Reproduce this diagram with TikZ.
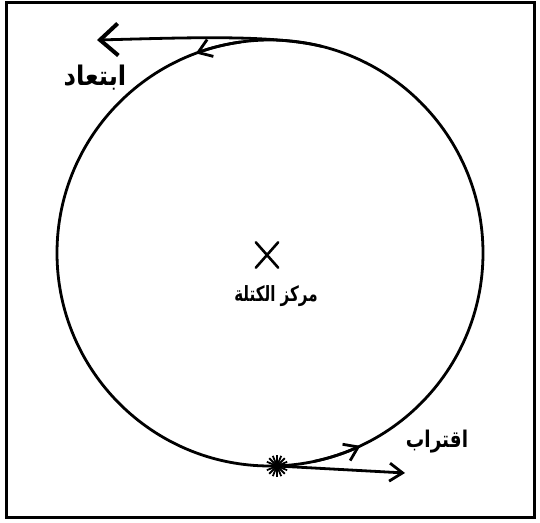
\documentclass[tikz,border=0pt]{standalone}
\usepackage{fontspec}
\usetikzlibrary{arrows.meta,calc}
\TeXXeTstate=1
\newfontfamily\arabicfont[Script=Arabic]{DejaVu Sans}
\begin{document}
\begin{tikzpicture}[x=1pt,y=1pt,
  ink/.style={line width=2.8pt,line cap=round,line join=round},
  barb/.style={-{Straight Barb[length=13pt,width=18pt,line width=2.8pt]}},
  bigbarb/.style={-{Straight Barb[length=18pt,width=32pt,line width=4pt]}},
  lbl/.style={font=\arabicfont\bfseries, inner sep=0pt}]
\useasboundingbox (0,0) rectangle (540,522);
\draw[line width=3pt] (6,5) rectangle (534,519);
% orbit
\coordinate (cm) at (270,269);
\draw[ink] (cm) circle[radius=213];
% centre of mass mark
\node[inner sep=0pt,minimum width=22pt,minimum height=25pt] (x) at (267,267) {};
\draw[line width=2.6pt,line cap=round] (x.north west) .. controls (267,267) .. (x.south east);
\draw[line width=2.6pt,line cap=round] (x.north east) .. controls (267,267) .. (x.south west);
\node[lbl] (cml) at (276,226) {\scalebox{0.72}[1]{\fontsize{21}{24}\selectfont\beginR مركز الكتلة\endR}};
% top: receding
\coordinate (t0) at ($(cm)+(76:213)$);
\coordinate (tip) at (97,482);
\draw[ink,bigbarb] (t0) .. controls (270,488) and (180,484) .. (tip);
\draw[ink,barb] ($(cm)+(98:213)$) arc[start angle=98,end angle=110.4,radius=213];
\node[lbl] (far) at (95,444) {\scalebox{0.9}[1]{\fontsize{27}{30}\selectfont\beginR ابتعاد\endR}};
% bottom: approaching
\coordinate (star) at (277,56);
\foreach \a in {0,22.5,...,337.5} \draw[line width=1.8pt] (star) -- ++(\a:11);
\draw[ink,barb] ($(cm)+(-78:213)$) arc[start angle=-78,end angle=-64.9,radius=213];
\coordinate (bend) at (405,49);
\draw[ink,barb] (star) -- (bend);
\node[lbl] (near) at (437,80) {\scalebox{0.8}[1]{\fontsize{23}{26}\selectfont\beginR اقتراب\endR}};
\end{tikzpicture}
\end{document}
